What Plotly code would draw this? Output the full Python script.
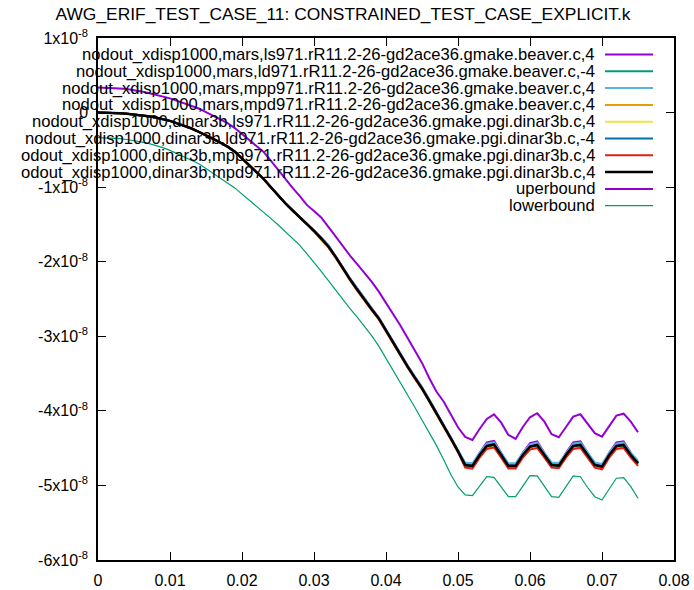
import plotly.graph_objects as go

# Sample times (s)
X = [0.000, 0.001, 0.002, 0.003, 0.004, 0.005, 0.006, 0.007, 0.008, 0.009,
     0.010, 0.011, 0.012, 0.013, 0.014, 0.015, 0.016, 0.017, 0.018, 0.019,
     0.020, 0.021, 0.022, 0.023, 0.024, 0.025, 0.026, 0.027, 0.028, 0.029,
     0.030, 0.031, 0.032, 0.033, 0.034, 0.035, 0.036, 0.037, 0.038, 0.039,
     0.040, 0.041, 0.042, 0.043, 0.044, 0.045, 0.046, 0.047, 0.048, 0.049,
     0.050, 0.051, 0.052, 0.053, 0.054, 0.055, 0.056, 0.057, 0.058, 0.059,
     0.060, 0.061, 0.062, 0.063, 0.064, 0.065, 0.066, 0.067, 0.068, 0.069,
     0.070, 0.071, 0.072, 0.073, 0.074, 0.075]

# Displacement values in units of 1e-8.
# All eight runs agree up to t = 0.029; this is the shared early history.
HEAD = [0.000, -0.001, -0.004, -0.008, -0.016, -0.024, -0.035, -0.050, -0.067, -0.089,
        -0.111, -0.145, -0.178, -0.214, -0.259, -0.302, -0.352, -0.403, -0.457, -0.524,
        -0.614, -0.704, -0.795, -0.890, -1.000, -1.110, -1.215, -1.310, -1.400, -1.490]

# t = 0.030 ... 0.075 for each run
MARS_LS = [-1.572, -1.675, -1.782, -1.921, -2.074, -2.223, -2.361, -2.499, -2.623, -2.748,
           -2.910, -3.080, -3.241, -3.393, -3.541, -3.685, -3.849, -4.014, -4.183, -4.356,
           -4.530, -4.711, -4.724, -4.562, -4.424, -4.404, -4.562, -4.724, -4.724, -4.562,
           -4.433, -4.410, -4.562, -4.711, -4.720, -4.562, -4.424, -4.410, -4.562, -4.711,
           -4.733, -4.562, -4.424, -4.410, -4.562, -4.688]
MARS_LD = [-1.585, -1.688, -1.795, -1.934, -2.087, -2.236, -2.374, -2.512, -2.636, -2.761,
           -2.923, -3.093, -3.254, -3.406, -3.554, -3.698, -3.862, -4.027, -4.196, -4.369,
           -4.543, -4.721, -4.734, -4.587, -4.466, -4.446, -4.587, -4.734, -4.734, -4.587,
           -4.475, -4.452, -4.587, -4.721, -4.730, -4.587, -4.466, -4.452, -4.587, -4.721,
           -4.743, -4.587, -4.466, -4.452, -4.587, -4.698]
MARS_MPP = [-1.572, -1.675, -1.782, -1.921, -2.074, -2.223, -2.361, -2.499, -2.623, -2.748,
            -2.910, -3.080, -3.241, -3.393, -3.541, -3.685, -3.849, -4.014, -4.183, -4.356,
            -4.530, -4.691, -4.704, -4.562, -4.441, -4.421, -4.562, -4.704, -4.704, -4.562,
            -4.450, -4.427, -4.562, -4.691, -4.700, -4.562, -4.441, -4.427, -4.562, -4.691,
            -4.713, -4.562, -4.441, -4.427, -4.562, -4.668]
MARS_MPD = [-1.598, -1.701, -1.808, -1.947, -2.100, -2.249, -2.387, -2.525, -2.649, -2.774,
            -2.936, -3.106, -3.267, -3.419, -3.567, -3.711, -3.875, -4.040, -4.209, -4.382,
            -4.556, -4.746, -4.759, -4.612, -4.491, -4.471, -4.612, -4.759, -4.759, -4.612,
            -4.500, -4.477, -4.612, -4.746, -4.755, -4.612, -4.491, -4.477, -4.612, -4.746,
            -4.768, -4.612, -4.491, -4.477, -4.612, -4.723]
DINAR_LS = [-1.598, -1.701, -1.808, -1.947, -2.100, -2.249, -2.387, -2.525, -2.649, -2.774,
            -2.936, -3.106, -3.267, -3.419, -3.567, -3.711, -3.875, -4.040, -4.209, -4.382,
            -4.556, -4.736, -4.749, -4.604, -4.486, -4.466, -4.604, -4.749, -4.749, -4.604,
            -4.495, -4.472, -4.604, -4.736, -4.745, -4.604, -4.486, -4.472, -4.604, -4.736,
            -4.758, -4.604, -4.486, -4.472, -4.604, -4.713]
DINAR_LD = [-1.585, -1.688, -1.795, -1.934, -2.087, -2.236, -2.374, -2.512, -2.636, -2.761,
            -2.923, -3.093, -3.254, -3.406, -3.554, -3.698, -3.862, -4.027, -4.196, -4.369,
            -4.543, -4.730, -4.743, -4.596, -4.475, -4.455, -4.596, -4.743, -4.743, -4.596,
            -4.484, -4.461, -4.596, -4.730, -4.739, -4.596, -4.475, -4.461, -4.596, -4.730,
            -4.752, -4.596, -4.475, -4.461, -4.596, -4.707]
DINAR_MPP = [-1.595, -1.698, -1.805, -1.944, -2.097, -2.246, -2.384, -2.522, -2.646, -2.771,
             -2.933, -3.103, -3.264, -3.416, -3.564, -3.708, -3.872, -4.037, -4.206, -4.379,
             -4.553, -4.761, -4.774, -4.627, -4.511, -4.491, -4.627, -4.774, -4.774, -4.627,
             -4.520, -4.497, -4.627, -4.761, -4.770, -4.627, -4.511, -4.497, -4.627, -4.761,
             -4.783, -4.627, -4.511, -4.497, -4.627, -4.738]
DINAR_MPD = [-1.585, -1.688, -1.795, -1.934, -2.087, -2.236, -2.374, -2.512, -2.636, -2.761,
             -2.923, -3.093, -3.254, -3.406, -3.554, -3.698, -3.862, -4.027, -4.196, -4.369,
             -4.543, -4.726, -4.739, -4.592, -4.471, -4.451, -4.592, -4.739, -4.739, -4.592,
             -4.480, -4.457, -4.592, -4.726, -4.735, -4.592, -4.471, -4.457, -4.592, -4.726,
             -4.748, -4.592, -4.471, -4.457, -4.592, -4.703]

UPPER = [0.335, 0.334, 0.330, 0.323, 0.317, 0.304, 0.284, 0.263, 0.241, 0.221,
         0.190, 0.157, 0.123, 0.090, 0.054, 0.005, -0.044, -0.093, -0.142, -0.208,
         -0.288, -0.369, -0.449, -0.527, -0.645, -0.769, -0.895, -1.006, -1.117, -1.238,
         -1.321, -1.406, -1.533, -1.663, -1.793, -1.917, -2.032, -2.149, -2.268, -2.401,
         -2.549, -2.700, -2.854, -3.022, -3.183, -3.357, -3.559, -3.740, -3.874, -4.047,
         -4.220, -4.350, -4.390, -4.243, -4.109, -4.046, -4.158, -4.323, -4.377, -4.216,
         -4.086, -4.032, -4.145, -4.314, -4.354, -4.216, -4.078, -4.046, -4.166, -4.300,
         -4.346, -4.203, -4.064, -4.038, -4.145, -4.287]
LOWER = [-0.335, -0.338, -0.342, -0.350, -0.361, -0.373, -0.392, -0.414, -0.441, -0.471,
         -0.507, -0.551, -0.596, -0.638, -0.685, -0.750, -0.813, -0.877, -0.940, -1.010,
         -1.093, -1.172, -1.253, -1.333, -1.419, -1.505, -1.594, -1.683, -1.777, -1.891,
         -2.005, -2.130, -2.255, -2.381, -2.508, -2.628, -2.743, -2.860, -2.991, -3.132,
         -3.293, -3.458, -3.618, -3.785, -3.952, -4.122, -4.291, -4.463, -4.652, -4.853,
         -5.021, -5.128, -5.137, -5.010, -4.883, -4.891, -5.021, -5.151, -5.151, -5.014,
         -4.869, -4.873, -5.014, -5.151, -5.159, -5.014, -4.873, -4.883, -5.028, -5.151,
         -5.195, -5.048, -4.904, -4.896, -5.017, -5.172]

SCALE = 1e-8

NAMES = [
    "nodout_xdisp1000,mars,ls971.rR11.2-26-gd2ace36.gmake.beaver.c,4",
    "nodout_xdisp1000,mars,ld971.rR11.2-26-gd2ace36.gmake.beaver.c,-4",
    "nodout_xdisp1000,mars,mpp971.rR11.2-26-gd2ace36.gmake.beaver.c,4",
    "nodout_xdisp1000,mars,mpd971.rR11.2-26-gd2ace36.gmake.beaver.c,4",
    "nodout_xdisp1000,dinar3b,ls971.rR11.2-26-gd2ace36.gmake.pgi.dinar3b.c,4",
    "nodout_xdisp1000,dinar3b,ld971.rR11.2-26-gd2ace36.gmake.pgi.dinar3b.c,-4",
    "odout_xdisp1000,dinar3b,mpp971.rR11.2-26-gd2ace36.gmake.pgi.dinar3b.c,4",
    "odout_xdisp1000,dinar3b,mpd971.rR11.2-26-gd2ace36.gmake.pgi.dinar3b.c,4",
    "uperbound",
    "lowerbound",
]
SERIES = [HEAD + MARS_LS, HEAD + MARS_LD, HEAD + MARS_MPP, HEAD + MARS_MPD,
          HEAD + DINAR_LS, HEAD + DINAR_LD, HEAD + DINAR_MPP, HEAD + DINAR_MPD,
          UPPER, LOWER]
COLORS = ["#9400d3", "#009e73", "#56b4e9", "#e69f00", "#f0e442",
          "#0072b2", "#e51e10", "#000000", "#9400d3", "#009e73"]
WIDTHS = [2, 2, 2, 2, 2, 2, 2, 2.5, 2, 1.2]

X_TICKS = [0, 0.01, 0.02, 0.03, 0.04, 0.05, 0.06, 0.07, 0.08]
X_LABELS = ["0", "0.01", "0.02", "0.03", "0.04", "0.05", "0.06", "0.07", "0.08"]
Y_TICKS = [-6, -5, -4, -3, -2, -1, 0, 1]
Y_LABELS = ["-6x10<sup>-8</sup>", "-5x10<sup>-8</sup>", "-4x10<sup>-8</sup>",
            "-3x10<sup>-8</sup>", "-2x10<sup>-8</sup>", "-1x10<sup>-8</sup>",
            "0", "1x10<sup>-8</sup>"]

TITLE = "AWG_ERIF_TEST_CASE_11: CONSTRAINED_TEST_CASE_EXPLICIT.k"

W, H = 694, 590
ML, MR, MT, MB = 98, 20, 38, 30
PW, PH = W - ML - MR, H - MT - MB

FONT = "Liberation Sans, Arial, sans-serif"

fig = go.Figure()
for name, ys, col, lw in zip(NAMES, SERIES, COLORS, WIDTHS):
    fig.add_trace(go.Scatter(
        x=X, y=[v * SCALE for v in ys], mode="lines", name=name,
        line=dict(color=col, width=lw), showlegend=False,
    ))

# gnuplot-style key: right-aligned label followed by a line sample
def px_x(px):
    return (px - ML) / PW

def px_y(py):
    return 1 - (py - MT) / PH

key_top, key_step = 54.5, 16.8
shapes, annotations = [], []
for i, (name, col, lw) in enumerate(zip(NAMES, COLORS, WIDTHS)):
    yy = px_y(key_top + i * key_step)
    annotations.append(dict(
        x=px_x(596), y=yy, xref="paper", yref="paper", text=name,
        showarrow=False, xanchor="right", yanchor="middle",
        font=dict(family=FONT, size=16.6, color="#000000"), borderpad=0,
    ))
    shapes.append(dict(
        type="line", xref="paper", yref="paper",
        x0=px_x(605), x1=px_x(653), y0=yy, y1=yy,
        line=dict(color=col, width=lw),
    ))

axis_common = dict(
    showline=True, linecolor="#000000", linewidth=1.5, mirror="ticks",
    ticks="inside", ticklen=8, tickwidth=1, tickcolor="#000000",
    showgrid=False, zeroline=False, automargin=False,
    tickfont=dict(family=FONT, size=16, color="#000000"),
)

fig.update_layout(
    width=W, height=H,
    margin=dict(l=ML, r=MR, t=MT, b=MB, autoexpand=False),
    paper_bgcolor="#ffffff", plot_bgcolor="#ffffff",
    title=dict(text=TITLE, x=343 / W, xanchor="center", y=1 - 13.5 / H, yanchor="middle",
               font=dict(family="Liberation Sans Narrow, Liberation Sans, sans-serif",
                         size=17.4, color="#000000")),
    xaxis=dict(range=[0, 0.08], tickvals=X_TICKS, ticktext=X_LABELS,
               ticklabelstandoff=5, **axis_common),
    yaxis=dict(range=[-6 * SCALE, 1 * SCALE], tickvals=[v * SCALE for v in Y_TICKS],
               ticktext=Y_LABELS, ticklabelstandoff=5, **axis_common),
    shapes=shapes, annotations=annotations,
)

fig.write_html("out.html")
